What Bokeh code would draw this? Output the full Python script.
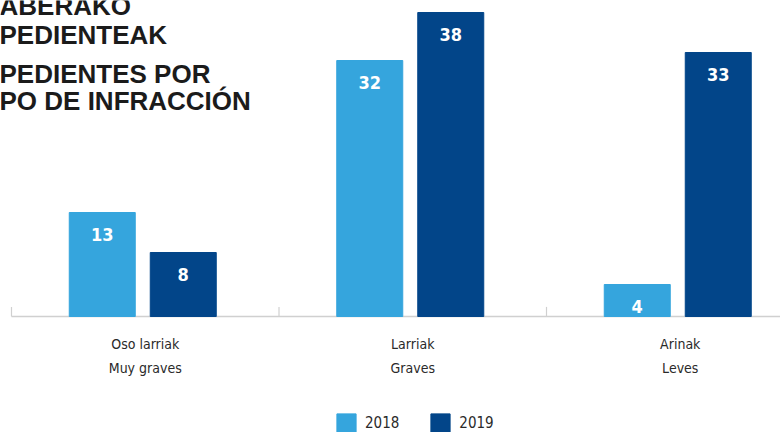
import numpy as np
from bokeh.plotting import figure
from bokeh.models import ColumnDataSource, Range1d, Label, Legend, LegendItem
from bokeh.transform import dodge
from bokeh.core.properties import value
from bokeh.embed import file_html
from bokeh.resources import INLINE

# ---- data ----
cats_eu = ["Oso larriak", "Larriak", "Arinak"]
cats_es = ["Muy graves", "Graves", "Leves"]
series_names = ["2018", "2019"]
values_2018 = [13, 32, 4]
values_2019 = [8, 38, 33]
title_lines = ["ABERAKO", "PEDIENTEAK", "PEDIENTES POR", "PO DE INFRACCIÓN"]

C2018 = "#35a5dd"
C2019 = "#024589"
TXT = "#2a2a2a"
COND = "DejaVu Sans Condensed"

W, H = 780, 432
PX_PER_CAT = 267.5
PX_PER_UNIT = 8.0
BASE_Y = 316  # canvas px of the zero line
X0 = -11 / PX_PER_CAT

n = len(cats_eu)
centers = np.arange(n) + 0.5
src = ColumnDataSource(dict(
    x=centers,
    v18=values_2018,
    v19=values_2019,
    l18=[str(v) for v in values_2018],
    l19=[str(v) for v in values_2019],
    eu=cats_eu,
    es=cats_es,
))

p = figure(width=W, height=H, output_backend="svg", toolbar_location=None,
           x_axis_location=None, y_axis_location=None, min_border=0,
           x_range=Range1d(X0, X0 + W / PX_PER_CAT),
           y_range=Range1d(-(H - BASE_Y) / PX_PER_UNIT, BASE_Y / PX_PER_UNIT))
p.outline_line_color = None
p.grid.visible = False
p.background_fill_color = "white"

# baseline and category separators
bounds = np.arange(n + 1).astype(float)
p.segment(x0=[bounds[0]], y0=[0], x1=[bounds[-1]], y1=[0], line_color="#d0d0d0", line_width=1.5)
p.segment(x0=bounds, y0=np.zeros(n + 1), x1=bounds, y1=np.full(n + 1, 1.2),
          line_color="#d0d0d0", line_width=1.2)

bw = 66 / PX_PER_CAT
off18 = -43 / PX_PER_CAT
off19 = 38 / PX_PER_CAT
r18 = p.vbar(x=dodge("x", off18), top="v18", bottom=0, width=bw, source=src,
             fill_color=C2018, line_color=C2018)
r19 = p.vbar(x=dodge("x", off19), top="v19", bottom=0, width=bw, source=src,
             fill_color=C2019, line_color=C2019)

for col, off in (("18", off18), ("19", off19)):
    p.text(x=dodge("x", off), y="v" + col, text="l" + col, source=src,
           text_color="white", text_font=value(COND), text_font_style="bold",
           text_font_size="18px", text_align="center", text_baseline="middle",
           y_offset=22)

# category labels
p.text(x="x", y=0, text="eu", source=src, text_color=TXT, text_font=value(COND),
       text_font_size="14px", text_align="center", text_baseline="alphabetic", y_offset=27)
p.text(x="x", y=0, text="es", source=src, text_color=TXT, text_font=value(COND),
       text_font_size="14px", text_align="center", text_baseline="alphabetic", y_offset=51)

# title fragments
for txt, base in zip(title_lines, [5, 34, 73, 100]):
    p.add_layout(Label(x=-1, y=H - base, x_units="screen", y_units="screen", text=txt,
                       text_font="Liberation Sans", text_font_style="bold",
                       text_font_size="26px", text_color="#1b1b1b",
                       text_baseline="alphabetic", text_align="left"))

legend = Legend(items=[LegendItem(label=series_names[0], renderers=[r18]),
                       LegendItem(label=series_names[1], renderers=[r19])],
                orientation="horizontal", location=(334, -3),
                glyph_width=24, glyph_height=24, label_standoff=7, spacing=29,
                padding=0, margin=0, border_line_color=None, background_fill_alpha=0,
                label_text_font=COND, label_text_font_size="15px",
                label_text_color=TXT)
p.add_layout(legend)

open("out.html", "w").write(file_html(p, INLINE))
